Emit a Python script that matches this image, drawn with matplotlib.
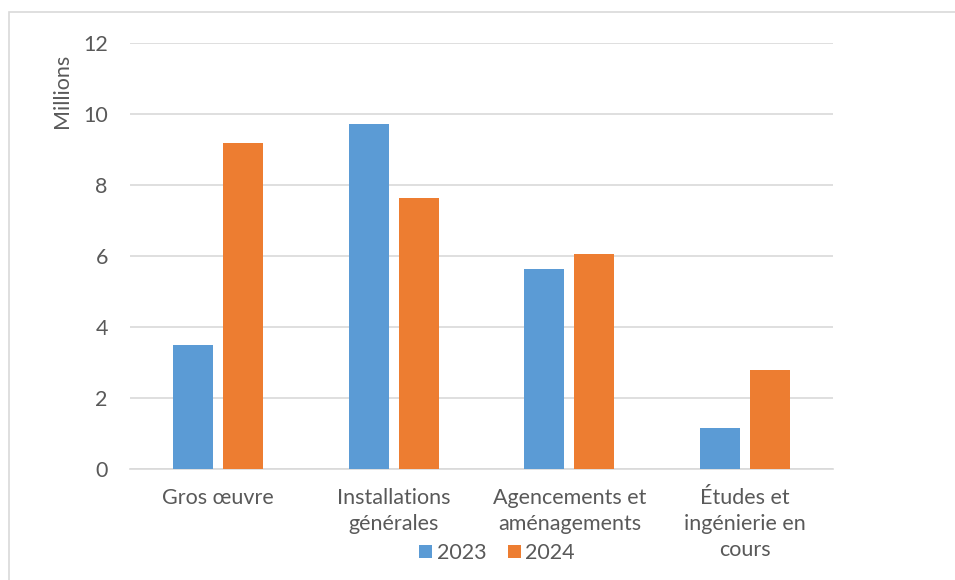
import numpy as np
import matplotlib.pyplot as plt
from matplotlib.patches import Rectangle

categories = ["Gros œuvre", "Installations\ngénérales", "Agencements et\naménagements", "Études et\ningénierie en\ncours"]
series_names = ["2023", "2024"]
values_2023 = [3.49, 9.72, 5.63, 1.15]
values_2024 = [9.19, 7.63, 6.05, 2.79]

blue = "#5B9BD5"
orange = "#ED7D31"
text_col = "#595959"
grid_col = "#D9D9D9"

plt.rcParams['font.family'] = ['Lato', 'DejaVu Sans']
fs = 15.5

fig = plt.figure(figsize=(9.55, 5.8), dpi=100)
ax = fig.add_axes([130 / 955, 1 - 469 / 580, 703 / 955, 426 / 580])

x = np.arange(len(categories))
w = 0.228
off = 0.142
ax.bar(x - off, values_2023, w, color=blue, label=series_names[0], zorder=3)
ax.bar(x + off, values_2024, w, color=orange, label=series_names[1], zorder=3)

ax.set_xlim(-0.5, len(categories) - 0.5)
ax.set_ylim(0, 12)
ax.set_yticks(range(0, 13, 2))
ax.yaxis.grid(True, color=grid_col, linewidth=1.2, zorder=0)
ax.set_xticks(x)
ax.set_xticklabels(categories, fontsize=fs, color=text_col, linespacing=1.35)
ax.tick_params(axis='y', labelsize=fs, labelcolor=text_col, length=0, pad=16)
ax.tick_params(axis='x', length=0, pad=14)
for s in ['top', 'right', 'left']:
    ax.spines[s].set_visible(False)
ax.spines['bottom'].set_color(grid_col)
ax.spines['bottom'].set_linewidth(1.2)

ax.set_ylabel("Millions", fontsize=fs, color=text_col)
ax.yaxis.set_label_coords(62 / 955, 1 - 91 / 580, transform=fig.transFigure)
ax.yaxis.label.set_verticalalignment('center')

ax.legend(loc='center', bbox_to_anchor=(497 / 955, 1 - 553 / 580), bbox_transform=fig.transFigure,
          ncol=2, frameon=False, fontsize=fs, labelcolor=text_col, handlelength=0.6, handleheight=0.6,
          handletextpad=0.2, columnspacing=1.0)

fig.patches.append(Rectangle((9 / 955, -0.1), 1.2, 1 - 12 / 580 + 0.1, transform=fig.transFigure,
                             fill=False, edgecolor=grid_col, linewidth=1.2, figure=fig))

fig.savefig("out.png", dpi=100)
